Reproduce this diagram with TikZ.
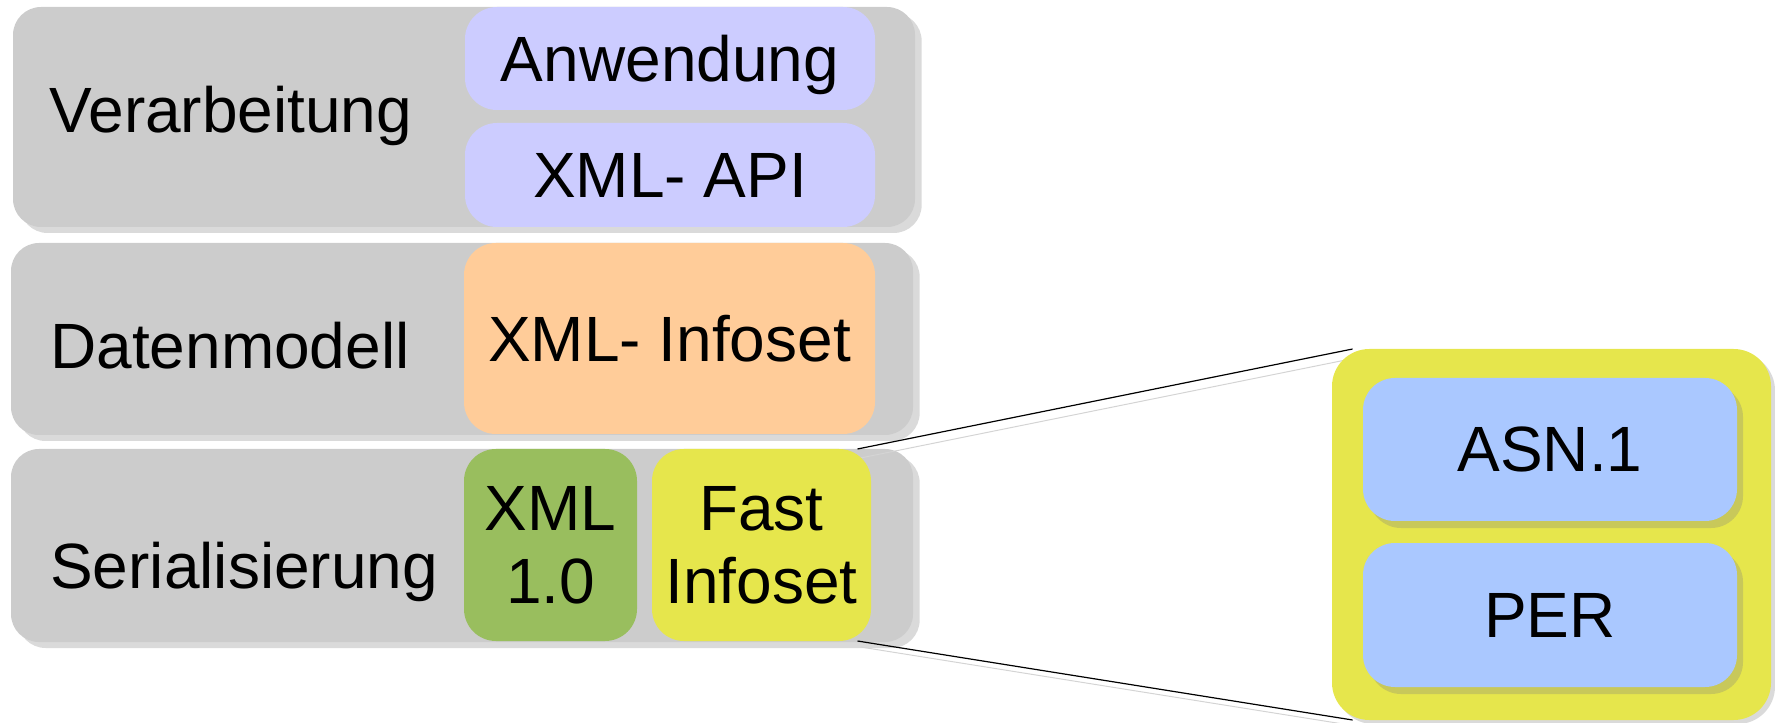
\documentclass[tikz,border=0pt]{standalone}
\usepackage{fontspec}
\setmainfont{Liberation Sans}
\usepackage{tikz}
\usetikzlibrary{shadows,backgrounds}
\pgfdeclarelayer{links}
\pgfsetlayers{background,links,main}

\definecolor{laygray}{HTML}{CCCCCC}
\definecolor{layshade}{HTML}{DADADA}
\definecolor{lavender}{HTML}{CCCCFF}
\definecolor{peach}{HTML}{FFCC99}
\definecolor{xmlgreen}{HTML}{99BE5E}
\definecolor{fiyellow}{HTML}{E6E64C}
\definecolor{asnblue}{HTML}{AAC8FF}
\definecolor{oliveshade}{HTML}{C8C85A}
\definecolor{lineshade}{HTML}{D4D4D4}

\begin{document}
\begin{tikzpicture}[x=0.75pt,y=0.75pt,yscale=-1,xscale=1,
  bigfont/.style={font=\fontsize{48}{55}\selectfont},
  layer/.style={fill=laygray,rounded corners=21pt,inner sep=0pt,outer sep=0pt,
    drop shadow={shadow xshift=5pt,shadow yshift=-4.5pt,fill=layshade,opacity=1}},
  part/.style={bigfont,rounded corners=24pt,inner sep=0pt,outer sep=0pt,align=center,text depth=0pt},
  inpart/.style={part,drop shadow={shadow xshift=4.5pt,shadow yshift=-5.25pt,fill=oliveshade,opacity=1}},
  label/.style={bigfont,anchor=base west,inner sep=0pt}]
%uncomment if require: \path (0,723); %set diagram left start at 0, and has height of 723
\useasboundingbox (0,0) rectangle (1775,723);

\begin{pgfonlayer}{background}
%Shape: Rounded Rect [id:verarb] 
\node [layer,minimum width=676.5pt,minimum height=165pt] (verarb) at (464,117) {};
%Shape: Rounded Rect [id:daten] 
\node [layer,minimum width=676.5pt,minimum height=144pt] (daten) at (462,339) {};
%Shape: Rounded Rect [id:serial] 
\node [layer,minimum width=676.5pt,minimum height=144.75pt] (serial) at (462,545.5) {};
\end{pgfonlayer}

% Text Node
\node [label] (lverarb) at (49,133) {Verarbeitung};
% Text Node
\node [label] (ldaten) at (50,369) {Datenmodell};
% Text Node
\node [label] (lserial) at (50,588) {Serialisierung};

%Shape: Rounded Rect [id:anw] 
\node [part,fill=lavender,minimum width=307.5pt,minimum height=77.25pt] (anw) at (670,58.5) {Anwendung};
%Shape: Rounded Rect [id:api] 
\node [part,fill=lavender,minimum width=307.5pt,minimum height=78pt] (api) at (670,175) {XML- API};
%Shape: Rounded Rect [id:infoset] 
\node [part,fill=peach,minimum width=308.25pt,minimum height=143.25pt] (infoset) at (669.5,338.5) {XML- Infoset};
%Shape: Rounded Rect [id:xml] 
\node [part,fill=xmlgreen,minimum width=129.75pt,minimum height=144pt] (xml) at (550.5,545) {XML\\1.0};
%Shape: Rounded Rect [id:fast] 
\node [part,fill=fiyellow,minimum width=164.25pt,minimum height=144pt] (fast) at (761.5,545) {Fast\\Infoset};

%Shape: Rounded Rect [id:zoom] 
\node [part,fill=fiyellow,rounded corners=28pt,minimum width=329.25pt,minimum height=278.25pt,
  drop shadow={shadow xshift=3pt,shadow yshift=-3pt,fill=layshade,opacity=1}] (zoom) at (1551.5,534.5) {};
%Shape: Rounded Rect [id:asn] 
\node [inpart,fill=asnblue,minimum width=280.5pt,minimum height=107.25pt] (asn) at (1550,449.5) {ASN.1};
%Shape: Rounded Rect [id:per] 
\node [inpart,fill=asnblue,minimum width=280.5pt,minimum height=108pt] (per) at (1550,615) {PER};

\begin{pgfonlayer}{links}
%Straight Lines [id:top] 
\draw [lineshade,line width=0.75pt] ([shift={(3,9)}]fast.45) -- ([shift={(3,9)}]zoom.137) ;
\draw [line width=0.9pt] (fast.45) -- (zoom.137) ;
%Straight Lines [id:bottom] 
\draw [lineshade,line width=0.75pt] ([shift={(3,6)}]fast.-45) -- ([shift={(3,6)}]zoom.223) ;
\draw [line width=0.9pt] (fast.-45) -- (zoom.223) ;
\end{pgfonlayer}

\end{tikzpicture}
\end{document}
